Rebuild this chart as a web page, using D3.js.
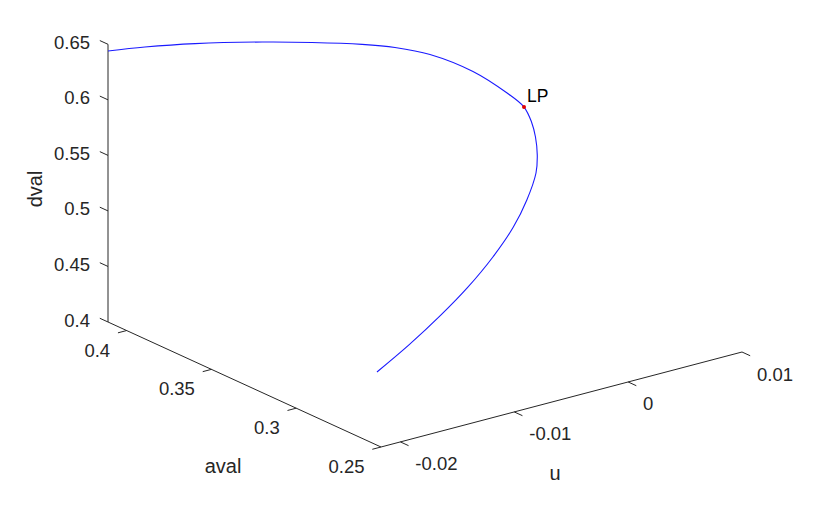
<!DOCTYPE html>
<html>
<head>
<meta charset="utf-8">
<script src="https://cdn.jsdelivr.net/npm/d3@7"></script>
<style>
  html, body { margin: 0; padding: 0; background: #ffffff; }
  svg { display: block; }
  text { font-family: "Liberation Sans", Arial, sans-serif; fill: #262626; }
</style>
</head>
<body>
<svg id="chart" width="819" height="517"></svg>
<script>
// ---- data ----
const aval = [0.411, 0.404, 0.396, 0.387, 0.380, 0.373, 0.368, 0.363, 0.357, 0.352, 0.349,
              0.347, 0.345, 0.343, 0.341, 0.337, 0.333, 0.328, 0.322, 0.316, 0.309, 0.301];
const uval = [-0.0217, -0.0195, -0.01629, -0.01175, -0.00841, -0.00505, -0.0029, -0.00057, 0.00231, 0.00456, 0.0056,
              0.00596, 0.00601, 0.00587, 0.00546, 0.00406, 0.00228, -0.00026, -0.00341, -0.0066, -0.01046, -0.01446];
const dval = [0.644, 0.6465, 0.6465, 0.642, 0.6375, 0.6316, 0.6265, 0.6174, 0.5985, 0.5765, 0.5632,
              0.5502, 0.5379, 0.5235, 0.5098, 0.4921, 0.4753, 0.4587, 0.4435, 0.4320, 0.4203, 0.4123];
const lpIndex = 10;
const lpLabel = "LP";

const avalTicks = [0.25, 0.3, 0.35, 0.4];
const avalTickLabels = ["0.25", "0.3", "0.35", "0.4"];
const uTicks = [-0.02, -0.01, 0, 0.01];
const uTickLabels = ["-0.02", "-0.01", "0", "0.01"];
const dTicks = [0.4, 0.45, 0.5, 0.55, 0.6, 0.65];
const dTickLabels = ["0.4", "0.45", "0.5", "0.55", "0.6", "0.65"];

const avalDomain = [0.25, 0.411];
const uDomain = [-0.0217, 0.01];
const dDomain = [0.4, 0.65];

// ---- oblique 3D projection built from linear scales ----
const sa = d3.scaleLinear().domain(avalDomain).range([0, 1]);
const su = d3.scaleLinear().domain(uDomain).range([0, 1]);
const sd = d3.scaleLinear().domain(dDomain).range([0, 1]);
const O = [381, 447];          // screen position of (aval min, u min, dval min)
const VA = [-273, -125];       // full aval range
const VU = [361, -95];         // full u range
const VD = [0, -277.7];        // full dval range
function proj(a, u, d) {
  const ta = sa(a), tu = su(u), td = sd(d);
  return [O[0] + ta * VA[0] + tu * VU[0] + td * VD[0],
          O[1] + ta * VA[1] + tu * VU[1] + td * VD[1]];
}
function unit(v) { const l = Math.hypot(v[0], v[1]); return [v[0] / l, v[1] / l]; }

const svg = d3.select("#chart");
const axisColor = "#262626";
const tickLen = 9;
const tickFont = "18.5px";
const labelFont = "20px";

// axis lines
const axesG = svg.append("g");
const aMin = avalDomain[0], aMax = avalDomain[1], uMin = uDomain[0], uMax = uDomain[1], dMin = dDomain[0], dMax = dDomain[1];
const axisLines = [
  [proj(aMax, uMin, dMin), proj(aMax, uMin, dMax)], // dval axis
  [proj(aMax, uMin, dMin), proj(aMin, uMin, dMin)], // aval axis
  [proj(aMin, uMin, dMin), proj(aMin, uMax, dMin)]  // u axis
];
axesG.selectAll("line.ax").data(axisLines).enter().append("line")
  .attr("x1", d => d[0][0]).attr("y1", d => d[0][1])
  .attr("x2", d => d[1][0]).attr("y2", d => d[1][1])
  .attr("stroke", axisColor).attr("stroke-width", 1);

const dirA = unit(VA), dirU = unit(VU);

// dval ticks (point toward +aval)
dTicks.forEach((t, i) => {
  const p = proj(aMax, uMin, t);
  axesG.append("line").attr("x1", p[0]).attr("y1", p[1])
    .attr("x2", p[0] + dirA[0] * tickLen).attr("y2", p[1] + dirA[1] * tickLen)
    .attr("stroke", axisColor).attr("stroke-width", 1);
  axesG.append("text").attr("x", 90).attr("y", p[1] - 2)
    .attr("text-anchor", "end").attr("dominant-baseline", "central")
    .style("font-size", tickFont).text(dTickLabels[i]);
});

// aval ticks (point toward -u)
avalTicks.forEach((t, i) => {
  const p = proj(t, uMin, dMin);
  axesG.append("line").attr("x1", p[0]).attr("y1", p[1])
    .attr("x2", p[0] - dirU[0] * tickLen).attr("y2", p[1] - dirU[1] * tickLen)
    .attr("stroke", axisColor).attr("stroke-width", 1);
  axesG.append("text").attr("x", p[0] - 16.5).attr("y", p[1] + 19.5)
    .attr("text-anchor", "end").attr("dominant-baseline", "central")
    .style("font-size", tickFont).text(avalTickLabels[i]);
});

// u ticks (point toward -aval)
uTicks.forEach((t, i) => {
  const p = proj(aMin, t, dMin);
  axesG.append("line").attr("x1", p[0]).attr("y1", p[1])
    .attr("x2", p[0] - dirA[0] * tickLen).attr("y2", p[1] - dirA[1] * tickLen)
    .attr("stroke", axisColor).attr("stroke-width", 1);
  axesG.append("text").attr("x", p[0] + 15).attr("y", p[1] + 22)
    .attr("text-anchor", "start").attr("dominant-baseline", "central")
    .style("font-size", tickFont).text(uTickLabels[i]);
});

// axis labels
svg.append("text").attr("transform", "translate(35,189) rotate(-90)")
  .attr("text-anchor", "middle").attr("dominant-baseline", "central")
  .style("font-size", labelFont).text("dval");
svg.append("text").attr("x", 223).attr("y", 466)
  .attr("text-anchor", "middle").attr("dominant-baseline", "central")
  .style("font-size", labelFont).text("aval");
svg.append("text").attr("x", 555).attr("y", 473)
  .attr("text-anchor", "middle").attr("dominant-baseline", "central")
  .style("font-size", labelFont).text("u");

// curve
const pts = aval.map((a, i) => proj(a, uval[i], dval[i]));
const line = d3.line().curve(d3.curveCatmullRom.alpha(0.5));
svg.append("path").attr("d", line(pts))
  .attr("fill", "none").attr("stroke", "#1a1aff").attr("stroke-width", 1.1);

// LP point
const lp = pts[lpIndex];
svg.append("circle").attr("cx", lp[0]).attr("cy", lp[1]).attr("r", 2)
  .attr("fill", "#e00000");
svg.append("text").attr("x", lp[0] + 3).attr("y", lp[1] - 5)
  .style("font-size", "17.5px").style("fill", "#000").text(lpLabel);
</script>
</body>
</html>
